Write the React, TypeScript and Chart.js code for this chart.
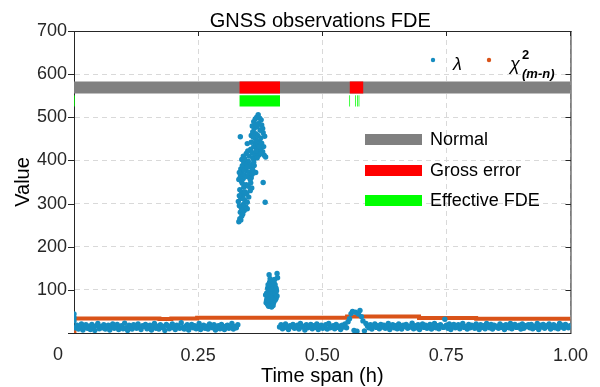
import React, { useEffect, useRef } from 'react';
import { Chart, registerables } from 'chart.js';

Chart.register(...registerables);

const FONT = '"Liberation Sans", Arial, Helvetica, sans-serif';
const BLUE = '#168cc0';
const ORANGE = '#d95319';
const GRAY = '#808080';
const RED = '#ff0000';
const GREEN = '#00ff00';
const AXIS = '#262626';
const GRID = '#d9d9d9';

// ---------- axes ----------
const xTicks = [0, 0.25, 0.5, 0.75, 1];
const xTickLabels = ['0', '0.25', '0.50', '0.75', '1.00'];
const yTicks = [0, 100, 200, 300, 400, 500, 600, 700];

const titleText = 'GNSS observations FDE';
const xTitle = 'Time span (h)';
const yTitle = 'Value';

// ---------- λ series (one value per epoch) ----------
const epochStep = 0.003;
const baseAStart = 0.003;
const lambdaBaseA = [
  12, 18, 9, 15, 21, 7, 14, 19, 11, 16,
  8, 20, 13, 6, 17, 22, 10, 15, 12, 19,
  9, 14, 18, 7, 16, 21, 11, 13, 20, 8,
  15, 17, 10, 23, 12, 6, 18, 14, 9, 19,
  16, 11, 21, 13, 8, 17, 15, 20, 10, 12,
  18, 7, 14, 22, 11, 16, 9, 19, 13, 15,
  6, 20, 17, 10, 14, 21, 12, 8, 18, 15,
  11, 24, 13, 9, 16, 19, 7, 14, 20, 12,
  17, 10, 15, 22, 8, 13, 18, 11, 16, 9,
  21, 14, 12, 19, 7, 15, 17, 10, 20, 13,
  8, 16, 18, 11, 14, 22, 9, 15, 12, 19,
];
const baseBStart = 0.414;
const lambdaBaseB = [
  14, 19, 10, 16, 21, 12, 8, 17, 15, 20,
  11, 13, 18, 9, 22, 14, 16, 7, 19, 12,
  15, 20, 10, 17, 13, 21, 8, 16, 18, 11,
  14, 19, 9, 22, 12, 15, 17, 10, 20, 13,
  16, 8, 18, 14, 21, 12, 26, 33, 45, 50,
  6, 48, 4, 44, 52, 38, 28, 5, 22, 16,
  12, 19, 9, 15, 21, 13, 17, 10, 20, 14,
  18, 11, 16, 22, 8, 15, 19, 12, 17, 10,
  21, 13, 9, 18, 15, 20, 11, 16, 14, 23,
  10, 17, 12, 19, 8, 15, 21, 13, 18, 11,
  16, 20, 9, 14, 22, 12, 17, 10, 19, 15,
  13, 32, 18, 11, 21, 8, 16, 20, 12, 14,
  19, 10, 17, 22, 13, 15, 9, 20, 12, 18,
  16, 11, 21, 14, 8, 19, 13, 17, 10, 22,
  15, 12, 20, 9, 18, 14, 16, 11, 21, 13,
  17, 8, 19, 15, 12, 22, 10, 16, 20, 13,
  14, 18, 9, 21, 11, 17, 15, 19, 12, 20,
  10, 16, 13, 22, 8, 18, 14, 20, 11, 17,
  15, 21, 9, 13, 19, 12, 16, 10, 22, 14,
  18, 11, 20, 15, 12, 17,
];
const lambdaEdge: [number, number][] = [[0, 44], [0, 36], [0, 28]];
const lambdaSpikeHigh: [number, number][] = [
  [0.332, 258], [0.334, 265], [0.336, 262], [0.338, 271], [0.335, 280], [0.340, 276], [0.343, 284],
  [0.337, 290], [0.346, 292], [0.341, 298], [0.349, 288], [0.333, 295],
  [0.331, 305], [0.336, 312], [0.340, 318], [0.344, 308], [0.348, 322], [0.352, 315], [0.338, 326],
  [0.334, 332], [0.342, 338], [0.347, 344], [0.355, 330], [0.351, 340], [0.358, 336], [0.345, 327],
  [0.339, 347], [0.333, 318], [0.356, 348], [0.349, 303], [0.341, 311], [0.385, 303],
  [0.332, 356], [0.335, 362], [0.338, 370], [0.341, 358], [0.344, 366], [0.347, 376], [0.350, 362],
  [0.353, 372], [0.356, 384], [0.359, 368], [0.336, 380], [0.339, 388], [0.342, 395], [0.345, 384],
  [0.348, 392], [0.351, 398], [0.354, 390], [0.357, 360], [0.360, 378], [0.363, 388], [0.333, 372],
  [0.337, 352], [0.343, 378], [0.349, 385], [0.355, 356], [0.381, 349], [0.362, 396], [0.366, 372],
  [0.338, 402], [0.341, 410], [0.344, 404], [0.347, 416], [0.350, 422], [0.353, 410], [0.356, 426],
  [0.359, 418], [0.362, 432], [0.365, 440], [0.368, 428], [0.371, 436], [0.374, 444], [0.377, 430],
  [0.380, 420], [0.383, 412], [0.386, 408], [0.360, 406], [0.364, 414], [0.370, 420], [0.375, 426],
  [0.378, 440], [0.366, 448], [0.372, 412], [0.357, 442], [0.349, 439], [0.362, 402], [0.369, 406],
  [0.376, 416], [0.382, 432], [0.367, 422], [0.373, 432],
  [0.335, 455], [0.357, 458], [0.360, 466], [0.363, 474], [0.366, 462], [0.369, 478], [0.372, 486],
  [0.375, 470], [0.378, 482], [0.381, 464], [0.384, 456], [0.362, 490], [0.365, 496], [0.368, 500],
  [0.371, 506], [0.374, 498], [0.377, 494], [0.359, 480], [0.370, 458], [0.376, 452], [0.380, 474],
  [0.366, 484], [0.361, 454],
];
const lambdaSpikeLow: [number, number][] = [
  [0.387, 70], [0.390, 66], [0.393, 72], [0.396, 68], [0.399, 74], [0.402, 70], [0.405, 76],
  [0.389, 80], [0.392, 84], [0.395, 78], [0.398, 86], [0.401, 82], [0.404, 88], [0.407, 80],
  [0.388, 92], [0.391, 96], [0.394, 90], [0.397, 98], [0.400, 94], [0.403, 100], [0.406, 92],
  [0.409, 86], [0.390, 104], [0.393, 108], [0.396, 102], [0.399, 110], [0.402, 106], [0.405, 112],
  [0.408, 98], [0.386, 88], [0.394, 118], [0.397, 114], [0.400, 120], [0.403, 116], [0.392, 62],
  [0.398, 60], [0.401, 64], [0.393, 135], [0.409, 138], [0.410, 128], [0.395, 126], [0.404, 124],
  [0.388, 76], [0.407, 104], [0.391, 112],
];

// ---------- χ²(m-n) threshold ----------
const chiStartDot: [number, number][] = [[0, 3]];
const chiT = [0.003, 0.172, 0.196, 0.248, 0.55, 0.695, 0.81, 0.86, 1.0];
const chiV = [31.5, 33.5, 32.5, 33.5, 35.5, 38, 35, 33, 33];

// ---------- status bands ----------
const statusBand = [555, 583];
const fdeBand = [525, 551];
const normalSpans: [number, number][] = [[0, 1]];
const grossSpans: [number, number][] = [[0.333, 0.415], [0.555, 0.583]];
const fdeSpans: [number, number][] = [[0.333, 0.415]];
const fdeLines = [0.001, 0.555, 0.567, 0.571, 0.574];
const bandLegend = ['Normal', 'Gross error', 'Effective FDE'];

function buildLambda() {
  const pts: { x: number; y: number }[] = [];
  lambdaEdge.forEach(([x, y]) => pts.push({ x, y }));
  lambdaBaseA.forEach((y, i) => pts.push({ x: baseAStart + i * epochStep, y }));
  lambdaSpikeHigh.forEach(([x, y]) => pts.push({ x, y }));
  lambdaSpikeLow.forEach(([x, y]) => pts.push({ x, y }));
  lambdaBaseB.forEach((y, i) => pts.push({ x: baseBStart + i * epochStep, y }));
  return pts;
}

function spanDataset(span: [number, number], range: number[], color: string, order: number) {
  return {
    type: 'line' as const,
    data: [{ x: span[0], y: range[1] }, { x: span[1], y: range[1] }],
    fill: { value: range[0] },
    backgroundColor: color,
    borderColor: 'rgba(0,0,0,0)',
    borderWidth: 0,
    pointRadius: 0,
    showLine: true,
    order,
  };
}

const decor = {
  id: 'decor',
  beforeDatasetsDraw(chart: any) {
    const { ctx, chartArea: a, scales } = chart;
    ctx.save();
    ctx.strokeStyle = AXIS;
    ctx.lineWidth = 1;
    ctx.setLineDash([]);
    ctx.beginPath();
    ctx.moveTo(a.left, a.top + 0.5);
    ctx.lineTo(a.right + 1, a.top + 0.5);
    ctx.moveTo(a.right + 0.5, a.top);
    ctx.lineTo(a.right + 0.5, a.bottom + 1);
    yTicks.forEach((v) => {
      const y = Math.round(scales.y.getPixelForValue(v)) + 0.5;
      ctx.moveTo(a.left - 6, y);
      ctx.lineTo(a.left, y);
      ctx.moveTo(a.right + 0.5, y);
      ctx.lineTo(a.right - 5, y);
    });
    xTicks.forEach((v) => {
      const x = Math.round(scales.x.getPixelForValue(v)) + 0.5;
      ctx.moveTo(x, a.top);
      ctx.lineTo(x, a.top + 5);
    });
    ctx.stroke();
    ctx.restore();
  },
  afterDraw(chart: any) {
    const { ctx, chartArea: a } = chart;
    ctx.save();
    ctx.fillStyle = '#000';
    // title
    ctx.font = `20px ${FONT}`;
    ctx.textAlign = 'center';
    ctx.textBaseline = 'alphabetic';
    ctx.fillText(titleText, (a.left + a.right) / 2 - 2, 27);
    // x title
    ctx.fillText(xTitle, (a.left + a.right) / 2, 381.5);
    // y title
    ctx.save();
    ctx.translate(23, (a.top + a.bottom) / 2);
    ctx.rotate(-Math.PI / 2);
    ctx.textBaseline = 'middle';
    ctx.fillText(yTitle, 0, 0);
    ctx.restore();
    // offset "0" tick label
    ctx.font = `18px ${FONT}`;
    ctx.fillStyle = AXIS;
    ctx.textAlign = 'center';
    ctx.textBaseline = 'alphabetic';
    ctx.fillText(xTickLabels[0], a.left - 16, 360);

    // top legend: λ and χ²(m-n)
    ctx.fillStyle = BLUE;
    ctx.beginPath();
    ctx.arc(433, 60, 2.2, 0, Math.PI * 2);
    ctx.fill();
    ctx.fillStyle = ORANGE;
    ctx.beginPath();
    ctx.arc(489, 60, 2.2, 0, Math.PI * 2);
    ctx.fill();
    ctx.fillStyle = '#000';
    ctx.textAlign = 'left';
    ctx.font = `italic 18px ${FONT}`;
    ctx.fillText('λ', 453, 70);
    ctx.fillText('χ', 510, 70);
    ctx.font = `bold 13px ${FONT}`;
    ctx.fillText('2', 522, 59);
    ctx.font = `italic bold 13px ${FONT}`;
    ctx.fillText('(m-n)', 522, 78);

    // band legend
    const colors = [GRAY, RED, GREEN];
    const ys = [134, 165, 195];
    ctx.font = `18px ${FONT}`;
    ctx.textBaseline = 'middle';
    bandLegend.forEach((label, i) => {
      ctx.fillStyle = colors[i];
      ctx.fillRect(365, ys[i], 57, 11);
      ctx.fillStyle = '#000';
      ctx.fillText(label, 430, ys[i] + 6);
    });
    ctx.restore();
  },
};

export default function App() {
  const ref = useRef<HTMLCanvasElement | null>(null);
  useEffect(() => {
    document.body.style.margin = '0';
    const canvas = ref.current;
    if (!canvas) return;
    const datasets: any[] = [];
    datasets.push({
      type: 'scatter',
      data: buildLambda(),
      backgroundColor: BLUE,
      pointRadius: 2.7,
      pointBorderWidth: 0,
      order: 1,
    });
    datasets.push({
      type: 'scatter',
      data: chiStartDot.map(([x, y]) => ({ x, y })),
      backgroundColor: ORANGE,
      pointRadius: 2.5,
      pointBorderWidth: 0,
      order: 1,
    });
    datasets.push({
      type: 'line',
      data: chiT.map((x, i) => ({ x, y: chiV[i] })),
      borderColor: ORANGE,
      borderWidth: 4,
      stepped: 'after',
      pointRadius: 0,
      fill: false,
      showLine: true,
      order: 2,
    });
    normalSpans.forEach((s) => datasets.push(spanDataset(s, statusBand, GRAY, 8)));
    grossSpans.forEach((s) => datasets.push(spanDataset(s, statusBand, RED, 7)));
    fdeSpans.forEach((s) => datasets.push(spanDataset(s, fdeBand, GREEN, 7)));
    fdeLines.forEach((t) =>
      datasets.push({
        type: 'line',
        data: [{ x: t, y: fdeBand[0] }, { x: t, y: fdeBand[1] }],
        borderColor: 'rgba(0,255,0,0.75)',
        borderWidth: 1,
        pointRadius: 0,
        fill: false,
        showLine: true,
        order: 6,
      })
    );

    const chart = new Chart(canvas, {
      type: 'scatter',
      data: { datasets },
      options: {
        animation: false,
        responsive: false,
        events: [],
        layout: { padding: { top: 31, right: 26, left: 0, bottom: 0 } },
        plugins: { legend: { display: false }, tooltip: { enabled: false }, title: { display: false } },
        scales: {
          x: {
            type: 'linear',
            min: 0,
            max: 1,
            afterFit: (s: any) => { s.height = 54; },
            afterBuildTicks: (s: any) => { s.ticks = xTicks.map((v) => ({ value: v })); },
            ticks: {
              font: { family: FONT, size: 18 },
              color: AXIS,
              padding: 12,
              maxRotation: 0,
              autoSkip: false,
              callback: (v: any) => {
                const i = xTicks.findIndex((t) => Math.abs(t - Number(v)) < 1e-6);
                return i > 0 ? xTickLabels[i] : '';
              },
            },
            grid: { color: GRID, drawTicks: false, lineWidth: 1 },
            border: { display: true, color: AXIS, width: 1, dash: [5, 4] },
          },
          y: {
            type: 'linear',
            min: 0,
            max: 700,
            afterFit: (s: any) => { s.width = 74; },
            afterBuildTicks: (s: any) => { s.ticks = yTicks.map((v) => ({ value: v })); },
            ticks: {
              font: { family: FONT, size: 18 },
              color: AXIS,
              padding: 7,
              callback: (v: any) => (Number(v) === 0 ? '' : String(v)),
            },
            grid: { color: GRID, drawTicks: false, lineWidth: 1 },
            border: { display: true, color: AXIS, width: 1, dash: [5, 4] },
          },
        },
      },
      plugins: [decor],
    } as any);
    return () => chart.destroy();
  }, []);
  return (
    <div style={{ position: 'absolute', left: 0, top: 0 }}>
      <canvas ref={ref} width={600} height={387} style={{ width: 600, height: 387, display: 'block' }} />
    </div>
  );
}
